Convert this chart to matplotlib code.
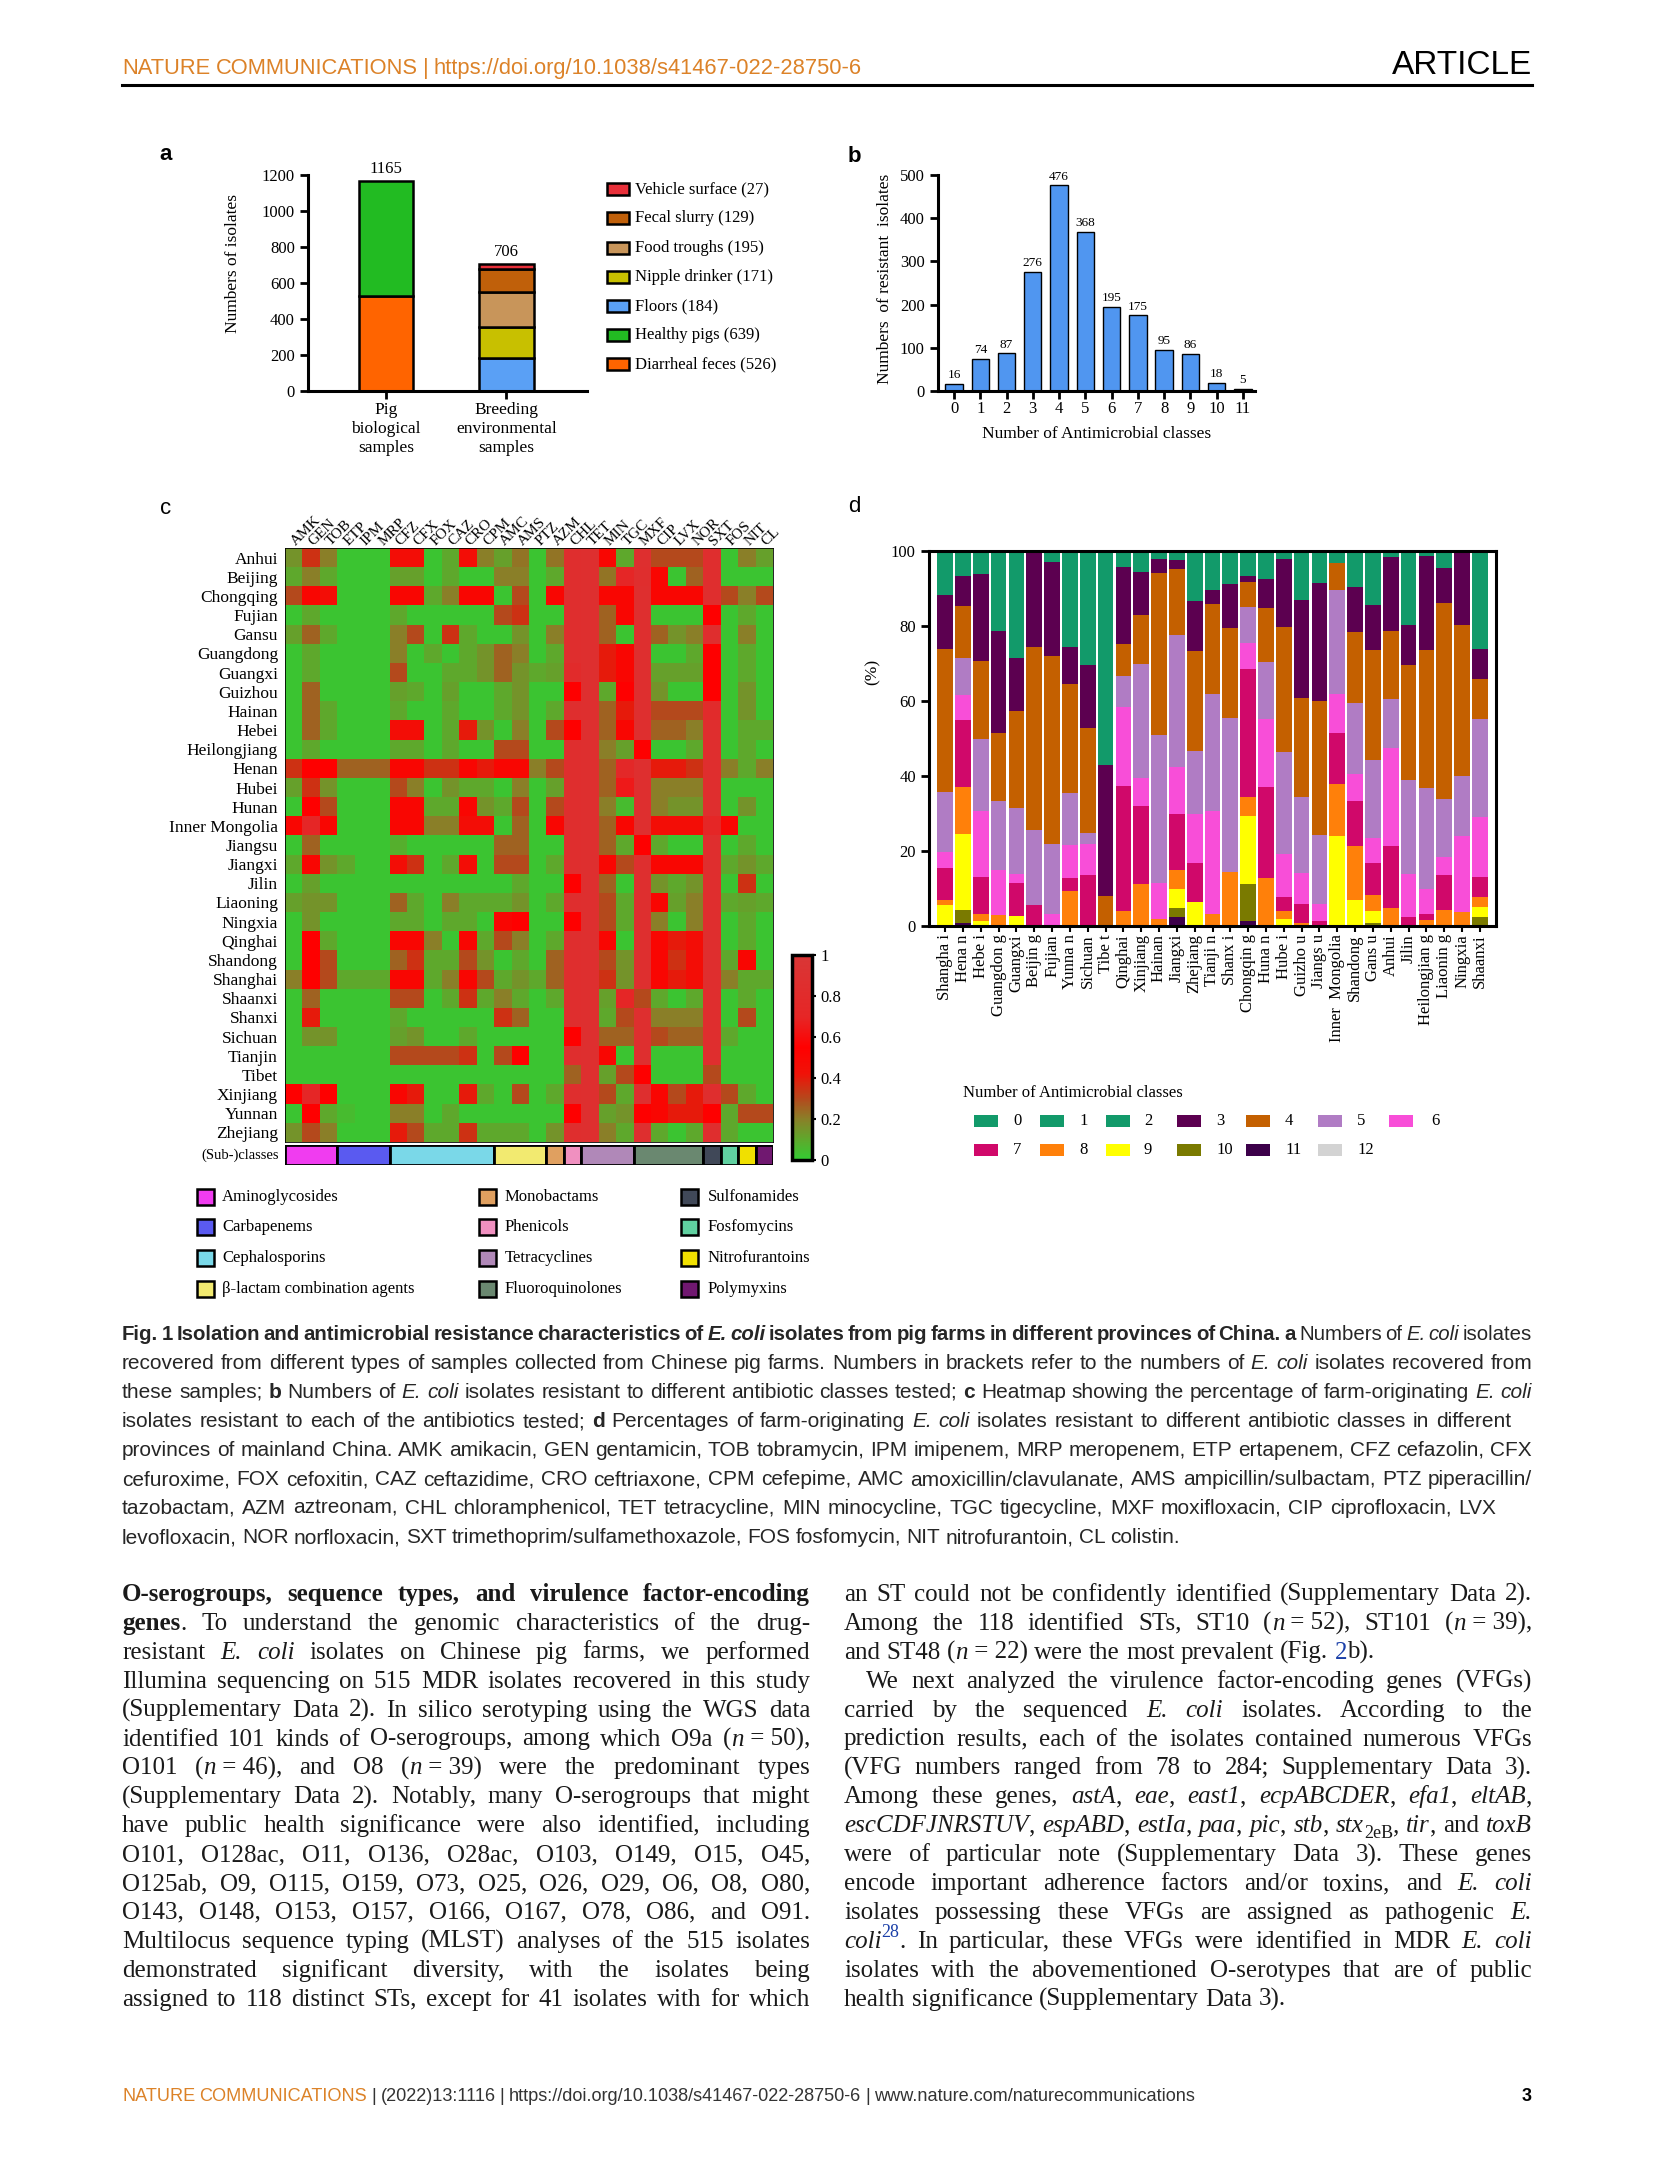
import numpy as np
import matplotlib
matplotlib.use('Agg')
import matplotlib.pyplot as plt
from matplotlib.colors import LinearSegmentedColormap
from matplotlib.patches import Rectangle

W, H = 1654, 2174
plt.rcParams['font.family'] = ['Liberation Serif', 'DejaVu Serif']
plt.rcParams['axes.unicode_minus'] = False

SANS = 'Liberation Sans'
SERIF = 'Liberation Serif'

# ---------------- panel a
sample_groups = ['Pig\nbiological\nsamples', 'Breeding\nenvironmental\nsamples']
source_names = ['Diarrheal feces', 'Healthy pigs', 'Floors', 'Nipple drinker',
                'Food troughs', 'Fecal slurry', 'Vehicle surface']
source_group = [0, 0, 1, 1, 1, 1, 1]
source_counts = [526, 639, 184, 171, 195, 129, 27]
source_colors = ['#ff6400', '#22bb22', '#5aa0f5', '#c8c000', '#c8955a', '#c0600a', '#e8303a']

# ---------------- panel b
n_classes = [0, 1, 2, 3, 4, 5, 6, 7, 8, 9, 10, 11]
n_resistant = [16, 74, 87, 276, 476, 368, 195, 175, 95, 86, 18, 5]

# ---------------- panel c
antibiotics = ['AMK', 'GEN', 'TOB', 'ETP', 'IPM', 'MRP', 'CFZ', 'CFX', 'FOX', 'CAZ', 'CRO', 'CPM',
               'AMC', 'AMS', 'PTZ', 'AZM', 'CHL', 'TET', 'MIN', 'TGC', 'MXF', 'CIP', 'LVX', 'NOR',
               'SXT', 'FOS', 'NIT', 'CL']
drug_classes = ['Aminoglycosides', 'Carbapenems', 'Cephalosporins', '\u03b2-lactam combination agents',
                'Monobactams', 'Phenicols', 'Tetracyclines', 'Fluoroquinolones',
                'Sulfonamides', 'Fosfomycins', 'Nitrofurantoins', 'Polymyxins']
drug_class_colors = ['#f03cf0', '#5a5af0', '#7ad8e8', '#f2ea70', '#e0a060', '#f090c0',
                     '#b088b8', '#6a8870', '#404858', '#60d0a0', '#f0e000', '#701870']
antibiotic_class = [0, 0, 0, 1, 1, 1, 2, 2, 2, 2, 2, 2, 3, 3, 3, 4, 5, 6, 6, 6, 7, 7, 7, 7, 8, 9, 10, 11]
provinces = ['Anhui', 'Beijing', 'Chongqing', 'Fujian', 'Gansu', 'Guangdong', 'Guangxi', 'Guizhou',
             'Hainan', 'Hebei', 'Heilongjiang', 'Henan', 'Hubei', 'Hunan', 'Inner Mongolia', 'Jiangsu',
             'Jiangxi', 'Jilin', 'Liaoning', 'Ningxia', 'Qinghai', 'Shandong', 'Shanghai', 'Shaanxi',
             'Shanxi', 'Sichuan', 'Tianjin', 'Tibet', 'Xinjiang', 'Yunnan', 'Zhejiang']
resist_rate = [
    [0.15, 0.35, 0.2, 0.02, 0.02, 0.02, 0.45, 0.45, 0.02, 0.1, 0.45, 0.2, 0.12, 0.22, 0.02, 0.22, 0.85, 0.88, 0.5, 0.1, 0.88, 0.3, 0.3, 0.3, 0.85, 0.02, 0.2, 0.12],
    [0.1, 0.2, 0.1, 0.02, 0.02, 0.02, 0.12, 0.12, 0.02, 0.1, 0.02, 0.02, 0.2, 0.2, 0.02, 0.1, 0.85, 0.88, 0.22, 0.7, 0.85, 0.5, 0.02, 0.25, 0.85, 0.02, 0.02, 0.02],
    [0.3, 0.5, 0.45, 0.02, 0.02, 0.02, 0.5, 0.5, 0.1, 0.2, 0.5, 0.5, 0.02, 0.3, 0.02, 0.5, 0.85, 0.88, 0.5, 0.5, 0.88, 0.5, 0.5, 0.5, 0.85, 0.3, 0.2, 0.3],
    [0.02, 0.1, 0.02, 0.02, 0.02, 0.02, 0.1, 0.02, 0.02, 0.02, 0.02, 0.02, 0.3, 0.35, 0.02, 0.02, 0.85, 0.88, 0.25, 0.5, 0.88, 0.02, 0.02, 0.02, 0.55, 0.02, 0.1, 0.02],
    [0.12, 0.25, 0.1, 0.02, 0.02, 0.02, 0.2, 0.3, 0.02, 0.35, 0.1, 0.02, 0.02, 0.15, 0.02, 0.2, 0.85, 0.88, 0.25, 0.02, 0.88, 0.25, 0.15, 0.2, 0.85, 0.02, 0.2, 0.02],
    [0.02, 0.1, 0.02, 0.02, 0.02, 0.02, 0.2, 0.02, 0.1, 0.02, 0.1, 0.15, 0.25, 0.2, 0.02, 0.1, 0.85, 0.88, 0.4, 0.5, 0.88, 0.02, 0.02, 0.1, 0.55, 0.02, 0.1, 0.02],
    [0.02, 0.1, 0.02, 0.02, 0.02, 0.02, 0.3, 0.02, 0.02, 0.1, 0.1, 0.15, 0.25, 0.15, 0.1, 0.12, 0.8, 0.88, 0.4, 0.5, 0.88, 0.12, 0.12, 0.12, 0.55, 0.02, 0.1, 0.02],
    [0.02, 0.25, 0.02, 0.02, 0.02, 0.02, 0.12, 0.1, 0.02, 0.12, 0.02, 0.02, 0.1, 0.15, 0.02, 0.02, 0.55, 0.88, 0.1, 0.55, 0.88, 0.15, 0.02, 0.02, 0.55, 0.02, 0.15, 0.02],
    [0.02, 0.25, 0.1, 0.02, 0.02, 0.02, 0.1, 0.02, 0.02, 0.1, 0.02, 0.02, 0.1, 0.15, 0.02, 0.1, 0.85, 0.88, 0.25, 0.4, 0.88, 0.3, 0.3, 0.3, 0.8, 0.02, 0.15, 0.02],
    [0.02, 0.25, 0.1, 0.02, 0.02, 0.02, 0.45, 0.45, 0.02, 0.1, 0.4, 0.15, 0.02, 0.2, 0.02, 0.3, 0.55, 0.88, 0.25, 0.5, 0.88, 0.25, 0.25, 0.2, 0.85, 0.02, 0.1, 0.1],
    [0.02, 0.1, 0.02, 0.02, 0.02, 0.02, 0.1, 0.1, 0.02, 0.1, 0.02, 0.02, 0.3, 0.3, 0.02, 0.02, 0.85, 0.88, 0.2, 0.12, 0.55, 0.02, 0.02, 0.1, 0.85, 0.02, 0.1, 0.02],
    [0.35, 0.55, 0.55, 0.25, 0.25, 0.25, 0.5, 0.5, 0.35, 0.35, 0.5, 0.4, 0.5, 0.5, 0.2, 0.3, 0.85, 0.88, 0.25, 0.75, 0.88, 0.4, 0.4, 0.35, 0.85, 0.2, 0.1, 0.2],
    [0.12, 0.35, 0.15, 0.02, 0.02, 0.02, 0.3, 0.2, 0.02, 0.15, 0.1, 0.1, 0.02, 0.2, 0.02, 0.12, 0.85, 0.88, 0.25, 0.65, 0.88, 0.2, 0.2, 0.2, 0.85, 0.02, 0.02, 0.02],
    [0.02, 0.55, 0.3, 0.02, 0.02, 0.02, 0.5, 0.5, 0.1, 0.1, 0.5, 0.15, 0.1, 0.3, 0.02, 0.3, 0.85, 0.88, 0.2, 0.05, 0.88, 0.2, 0.15, 0.15, 0.85, 0.02, 0.15, 0.02],
    [0.5, 0.7, 0.5, 0.02, 0.02, 0.02, 0.5, 0.5, 0.2, 0.2, 0.45, 0.45, 0.02, 0.25, 0.02, 0.5, 0.85, 0.88, 0.25, 0.5, 0.88, 0.45, 0.45, 0.45, 0.7, 0.5, 0.02, 0.02],
    [0.02, 0.25, 0.02, 0.02, 0.02, 0.02, 0.08, 0.02, 0.02, 0.02, 0.02, 0.02, 0.25, 0.25, 0.02, 0.02, 0.85, 0.88, 0.25, 0.1, 0.55, 0.1, 0.02, 0.02, 0.85, 0.02, 0.1, 0.02],
    [0.1, 0.5, 0.15, 0.1, 0.02, 0.02, 0.45, 0.35, 0.02, 0.1, 0.45, 0.02, 0.3, 0.3, 0.02, 0.1, 0.85, 0.88, 0.5, 0.3, 0.88, 0.5, 0.5, 0.5, 0.85, 0.1, 0.15, 0.1],
    [0.02, 0.12, 0.02, 0.02, 0.02, 0.02, 0.02, 0.02, 0.02, 0.02, 0.02, 0.02, 0.02, 0.1, 0.02, 0.02, 0.55, 0.88, 0.25, 0.02, 0.88, 0.15, 0.1, 0.15, 0.85, 0.02, 0.35, 0.02],
    [0.12, 0.15, 0.15, 0.02, 0.02, 0.02, 0.25, 0.1, 0.02, 0.2, 0.1, 0.1, 0.1, 0.15, 0.02, 0.1, 0.85, 0.88, 0.3, 0.1, 0.88, 0.5, 0.12, 0.2, 0.85, 0.1, 0.12, 0.1],
    [0.02, 0.15, 0.02, 0.02, 0.02, 0.02, 0.1, 0.1, 0.02, 0.1, 0.1, 0.02, 0.5, 0.55, 0.02, 0.02, 0.55, 0.88, 0.3, 0.1, 0.88, 0.2, 0.02, 0.2, 0.85, 0.02, 0.1, 0.02],
    [0.02, 0.55, 0.1, 0.02, 0.02, 0.02, 0.5, 0.5, 0.2, 0.02, 0.5, 0.1, 0.3, 0.2, 0.02, 0.1, 0.85, 0.88, 0.5, 0.02, 0.88, 0.5, 0.4, 0.45, 0.85, 0.02, 0.1, 0.02],
    [0.02, 0.55, 0.3, 0.02, 0.02, 0.02, 0.25, 0.35, 0.1, 0.1, 0.3, 0.15, 0.02, 0.1, 0.02, 0.25, 0.85, 0.88, 0.3, 0.15, 0.88, 0.5, 0.35, 0.45, 0.85, 0.1, 0.5, 0.02],
    [0.2, 0.55, 0.3, 0.1, 0.1, 0.1, 0.5, 0.5, 0.1, 0.2, 0.5, 0.3, 0.1, 0.15, 0.1, 0.25, 0.85, 0.88, 0.35, 0.15, 0.88, 0.5, 0.4, 0.45, 0.85, 0.2, 0.1, 0.1],
    [0.02, 0.25, 0.02, 0.02, 0.02, 0.02, 0.3, 0.3, 0.02, 0.1, 0.35, 0.1, 0.2, 0.1, 0.02, 0.1, 0.85, 0.88, 0.12, 0.7, 0.3, 0.1, 0.02, 0.1, 0.85, 0.02, 0.1, 0.02],
    [0.02, 0.4, 0.02, 0.02, 0.02, 0.02, 0.1, 0.02, 0.02, 0.02, 0.02, 0.02, 0.35, 0.25, 0.02, 0.02, 0.85, 0.88, 0.1, 0.3, 0.88, 0.2, 0.2, 0.2, 0.85, 0.02, 0.3, 0.02],
    [0.02, 0.15, 0.15, 0.02, 0.02, 0.02, 0.12, 0.15, 0.02, 0.02, 0.1, 0.02, 0.02, 0.02, 0.02, 0.02, 0.55, 0.88, 0.25, 0.25, 0.88, 0.3, 0.25, 0.25, 0.85, 0.1, 0.02, 0.02],
    [0.02, 0.02, 0.02, 0.02, 0.02, 0.02, 0.3, 0.3, 0.3, 0.3, 0.35, 0.02, 0.3, 0.55, 0.02, 0.02, 0.85, 0.88, 0.5, 0.02, 0.88, 0.02, 0.02, 0.02, 0.85, 0.02, 0.02, 0.02],
    [0.02, 0.02, 0.02, 0.02, 0.02, 0.02, 0.02, 0.02, 0.02, 0.02, 0.02, 0.02, 0.02, 0.02, 0.02, 0.02, 0.25, 0.88, 0.12, 0.3, 0.55, 0.02, 0.02, 0.02, 0.3, 0.02, 0.02, 0.02],
    [0.55, 0.7, 0.55, 0.02, 0.02, 0.02, 0.5, 0.4, 0.02, 0.02, 0.4, 0.1, 0.02, 0.3, 0.02, 0.1, 0.85, 0.88, 0.3, 0.1, 0.88, 0.5, 0.3, 0.4, 0.85, 0.3, 0.1, 0.02],
    [0.02, 0.55, 0.1, 0.05, 0.02, 0.02, 0.2, 0.2, 0.02, 0.1, 0.02, 0.02, 0.02, 0.02, 0.02, 0.02, 0.55, 0.88, 0.12, 0.15, 0.55, 0.5, 0.4, 0.4, 0.55, 0.1, 0.3, 0.3],
    [0.15, 0.3, 0.2, 0.02, 0.02, 0.02, 0.4, 0.3, 0.1, 0.1, 0.35, 0.1, 0.1, 0.1, 0.02, 0.15, 0.85, 0.88, 0.2, 0.1, 0.88, 0.1, 0.02, 0.1, 0.85, 0.1, 0.02, 0.02],
]

# ---------------- panel d (percent of isolates per number of resistant classes)
d_provinces = ['Shangha i', 'Hena n', 'Hebe i', 'Guangdon g', 'Guangxi', 'Beijin g', 'Fujian', 'Yunna n',
               'Sichuan', 'Tibe t', 'Qinghai', 'Xinjiang', 'Hainan', 'Jiangxi', 'Zhejiang', 'Tianji n',
               'Shanx i', 'Chongqin g', 'Huna n', 'Hube i', 'Guizho u', 'Jiangs u', 'Inner  Mongolia',
               'Shandong', 'Gans u', 'Anhui', 'Jilin', 'Heilongjian g', 'Liaonin g', 'Ningxia', 'Shaanxi']
pct_c11 = [0, 0.9, 0, 0, 0, 0, 0, 0, 0, 0, 0, 0, 0, 2.3, 0, 0, 0, 1.3, 0, 0, 0, 0, 0, 0, 0, 0, 0, 0, 0, 0, 0]
pct_c10 = [0, 3.5, 0, 0, 0, 0, 0, 0, 0, 0, 0, 0, 0, 2.4, 0, 0, 0, 9.9, 0, 0, 0, 0, 0, 0, 0.9, 0, 0, 0, 0, 0, 2.5]
pct_c9 = [5.6, 20.1, 1.4, 0, 2.7, 0, 0, 0, 0, 0, 0, 0, 0, 5.2, 6.5, 0, 0, 18.1, 0, 2.0, 0, 0, 24.0, 6.9, 3.2, 0, 0, 0, 0, 0, 2.7]
pct_c8 = [1.3, 12.7, 1.8, 2.9, 0, 0, 0, 9.4, 0, 0, 4.0, 11.1, 1.8, 5.0, 0, 3.2, 14.5, 5.0, 12.7, 2.1, 0.9, 0, 13.9, 14.4, 4.3, 4.9, 0, 1.6, 4.4, 3.8, 2.6]
pct_c7 = [8.7, 17.7, 10.0, 0, 8.7, 5.6, 0, 3.3, 13.6, 0, 33.4, 20.9, 0, 15.1, 10.2, 0, 0, 34.2, 24.3, 3.7, 5.1, 1.3, 13.7, 12.0, 8.5, 16.4, 2.5, 1.6, 9.2, 0, 5.2]
pct_c6 = [4.2, 6.7, 17.6, 12.0, 2.6, 0, 3.2, 8.9, 8.4, 0, 20.9, 7.6, 9.6, 12.5, 13.3, 27.5, 0, 6.9, 18.1, 11.4, 8.2, 4.5, 10.3, 7.2, 6.7, 26.3, 11.3, 6.8, 4.9, 20.3, 16.2]
pct_c5 = [16.0, 10.0, 19.0, 18.4, 17.6, 20.0, 18.8, 13.8, 2.9, 0, 8.4, 30.3, 39.5, 35.1, 16.7, 31.3, 41.1, 9.8, 15.4, 27.3, 20.3, 18.5, 27.7, 19.1, 20.8, 12.9, 25.1, 26.9, 15.3, 15.9, 26.1]
pct_c4 = [38.0, 13.7, 20.9, 18.3, 25.7, 48.9, 50.0, 29.1, 27.8, 8.0, 8.4, 13.1, 43.3, 17.6, 26.7, 24.0, 23.8, 6.6, 14.2, 33.3, 26.2, 35.8, 7.1, 18.9, 29.2, 18.2, 30.7, 36.7, 52.4, 40.3, 10.6]
pct_c3 = [14.5, 8.0, 23.3, 27.2, 14.3, 25.5, 25.0, 9.8, 16.9, 34.9, 20.7, 11.3, 3.8, 2.4, 13.3, 3.6, 11.8, 1.5, 7.8, 18.2, 26.2, 31.3, 0, 11.8, 12.0, 19.8, 10.8, 25.1, 9.2, 19.7, 7.9]
pct_c0_2 = [11.7, 6.7, 6.0, 21.2, 28.4, 0, 3.0, 25.7, 30.4, 57.1, 4.4, 5.7, 2.0, 2.4, 13.3, 10.4, 8.8, 6.7, 7.5, 2.0, 20.9, 8.6, 3.5, 9.7, 14.4, 1.5, 19.3, 1.3, 4.6, 0, 26.2]
class_labels = ['0', '1', '2', '3', '4', '5', '6', '7', '8', '9', '10', '11', '12']
class_colors = ['#129a6a', '#129a6a', '#129a6a', '#5c0050', '#c46000', '#b07cc4', '#f84ed8',
                '#d0086a', '#ff800a', '#ffff00', '#7a7a00', '#3c004a', '#d3d3d3']

TXT = '#1a1a1a'
ORANGE = '#dc8228'
BLUE = '#1a3fa8'

fig = plt.figure(figsize=(W / 100, H / 100), dpi=100)
page = fig.add_axes([0, 0, 1, 1])
page.set_xlim(0, W)
page.set_ylim(H, 0)
page.axis('off')
renderer = fig.canvas.get_renderer()


def px_axes(l, t, r, b):
    return fig.add_axes([l / W, 1 - b / H, (r - l) / W, (b - t) / H])


def style_axis(ax, spines=('left', 'bottom')):
    for s in ['left', 'right', 'top', 'bottom']:
        ax.spines[s].set_visible(s in spines)
        ax.spines[s].set_linewidth(2.2)
    ax.tick_params(width=2.0, length=6, labelsize=12, color='black')


def build_words(runs, y, size, family, color):
    words = [[]]
    for txt, st in runs:
        for k, part in enumerate(txt.split(' ')):
            if k:
                words.append([])
            if part:
                words[-1].append((part, st))
    em = size * 100 / 72
    placed = []
    for w in [w for w in words if w]:
        frags, tot = [], 0
        for part, st in w:
            kw = dict(fontsize=size, family=family, color=color, va='baseline', ha='left')
            dy = 0
            if st in ('b', 'bi'):
                kw['fontweight'] = 'bold'
            if st in ('i', 'bi'):
                kw['fontstyle'] = 'italic'
            if st in ('sub', 'sup'):
                kw['fontsize'] = size * 0.72
                dy = 0.22 * em if st == 'sub' else -0.42 * em
            if st in ('sup', 'blue'):
                kw['color'] = BLUE
            if st == 'o':
                kw['color'] = ORANGE
            t = page.text(0, y + dy, part, **kw)
            wd = t.get_window_extent(renderer).width
            frags.append((t, wd))
            tot += wd
        placed.append((frags, tot))
    return placed, em


def put_line(runs, x0, y, size, family, x1=None, color=TXT, fit=False):
    for _ in range(3):
        placed, em = build_words(runs, y, size, family, color)
        words_w = sum(p[1] for p in placed)
        n = len(placed)
        if x1 is None:
            break
        natural = words_w + (n - 1) * 0.25 * em
        tight = words_w + (n - 1) * 0.15 * em
        if (fit and abs(natural - (x1 - x0)) > 2) or tight > x1 - x0:
            for frags, _w in placed:
                for t, _ in frags:
                    t.remove()
            size *= (x1 - x0) / (natural if fit else tight)
            continue
        break
    gap = 0.25 * em
    if x1 is not None and n > 1:
        gap = (x1 - x0 - words_w) / (n - 1)
    x = x0
    for frags, tot in placed:
        for t, wd in frags:
            t.set_x(x)
            x += wd
        x += gap


# ---------------- header / footer
put_line([('NATURE COMMUNICATIONS | https://doi.org/10.1038/s41467-022-28750-6', 'o')],
         122, 74, 14.5, SANS, x1=862, fit=True)
page.text(1532, 74, 'ARTICLE', family=SANS, fontsize=24, ha='right', va='baseline', color='black')
page.plot([122, 1532], [85, 85], color='black', lw=2.2)
put_line([('NATURE COMMUNICATIONS', 'o'), (' | (2022)13:1116 | https://doi.org/10.1038/s41467-022-28750-6 | www.nature.com/naturecommunications', 'n')],
         122, 2101, 12.5, SANS, x1=1195, color='#333333', fit=True)
page.text(1532, 2101, '3', family=SANS, fontsize=13, fontweight='bold', ha='right', va='baseline')

# panel letters
for lab, x, y, wt in [('a', 166, 154, 'bold'), ('b', 854, 157, 'bold'), ('c', 166, 508, 'normal'), ('d', 854, 507, 'normal')]:
    page.text(x, y, lab, family=SANS, fontsize=16, fontweight=wt, ha='center', va='center')

# ---------------- panel a
axa = px_axes(308, 175, 587, 391)
style_axis(axa)
bottoms = [0, 0]
for name, grp, cnt, col in zip(source_names, source_group, source_counts, source_colors):
    axa.bar(grp, cnt, bottom=bottoms[grp], width=0.45, color=col, edgecolor='black', linewidth=1.8)
    bottoms[grp] += cnt
for g, tot in enumerate(bottoms):
    axa.annotate(f'{tot}', (g, tot), xytext=(0, 3), textcoords='offset points',
                 ha='center', va='bottom', fontsize=12)
axa.set_xlim(-0.647, 1.668)
axa.set_ylim(0, 1200)
axa.set_yticks(range(0, 1201, 200))
axa.set_xticks([0, 1])
axa.set_xticklabels(sample_groups, linespacing=1.25, fontsize=12.5)
axa.tick_params(axis='x', pad=2)
axa.set_ylabel('Numbers of isolates', fontsize=12.5)
axa.yaxis.set_label_coords(-0.269, 0.59)
axa.yaxis.label.set_va('center')

leg_rows = [189, 218, 248, 277, 306, 335, 364]
for i, k in enumerate(range(len(source_names) - 1, -1, -1)):
    y = leg_rows[i]
    page.add_patch(Rectangle((607, y - 6), 22, 12, facecolor=source_colors[k], edgecolor='black', lw=1.8))
    page.text(635, y, f'{source_names[k]} ({source_counts[k]})', fontsize=12, ha='left', va='center', family=SERIF)

# ---------------- panel b
axb = px_axes(938, 175, 1255, 391)
style_axis(axb)
axb.bar(n_classes, n_resistant, width=0.66, color='#5096f0', edgecolor='black', linewidth=1.0)
for x, v in zip(n_classes, n_resistant):
    axb.annotate(f'{v}', (x, v), xytext=(0, 2), textcoords='offset points', ha='center', va='bottom', fontsize=9.5)
axb.set_xlim(-0.61, 11.46)
axb.set_ylim(0, 500)
axb.set_yticks(range(0, 501, 100))
axb.set_xticks(n_classes)
axb.tick_params(axis='x', pad=1.5)
axb.set_xlabel('Number of Antimicrobial classes', fontsize=12.5)
axb.xaxis.set_label_coords(0.5, -(434 - 391) / 216)
axb.xaxis.label.set_va('center')
axb.set_ylabel('Numbers  of resistant  isolates', fontsize=12.5)
axb.yaxis.set_label_coords(-(938 - 885) / 317, 0.52)
axb.yaxis.label.set_va('center')

# ---------------- panel c
cmap = LinearSegmentedColormap.from_list('gr', [(0, '#33cc33'), (0.1, '#5fa82c'), (0.2, '#8a7f28'),
                                               (0.3, '#b5481c'), (0.42, '#f01208'), (0.55, '#ff0000'),
                                               (0.7, '#e62626'), (1, '#d93636')])
axc = px_axes(285, 548, 773, 1142)
im = axc.imshow(np.array(resist_rate), cmap=cmap, vmin=0, vmax=1, aspect='auto', interpolation='nearest')
axc.xaxis.tick_top()
axc.set_xticks(range(len(antibiotics)))
axc.set_xticklabels(antibiotics, rotation=45, ha='left', va='center', rotation_mode='anchor', fontsize=11)
axc.set_yticks(range(len(provinces)))
axc.set_yticklabels(provinces, fontsize=12.5)
axc.tick_params(length=0, pad=5)
axc.tick_params(axis='x', pad=3)
for s in axc.spines.values():
    s.set_linewidth(0.6)

axs = px_axes(285, 1145, 773, 1165)
start = 0
for k in range(len(drug_classes)):
    n = antibiotic_class.count(k)
    axs.barh(0, n, left=start, height=1, color=drug_class_colors[k], edgecolor='black', linewidth=2)
    start += n
axs.set_xlim(0, len(antibiotics))
axs.set_ylim(-0.5, 0.5)
axs.axis('off')
page.text(279, 1155, '(Sub-)classes', fontsize=10.5, ha='right', va='center', family=SERIF)

cax = px_axes(792, 955, 812, 1160)
cb = fig.colorbar(im, cax=cax, ticks=[0, 0.2, 0.4, 0.6, 0.8, 1])
cb.ax.set_yticklabels(['0', '0.2', '0.4', '0.6', '0.8', '1'])
cb.outline.set_linewidth(2.5)
cax.tick_params(length=3, width=1.5, labelsize=12, pad=3)

leg_x = [(197, 222), (479, 505), (681, 708)]
leg_y = [1197, 1227, 1258, 1289]
for k, name in enumerate(drug_classes):
    px, tx = leg_x[k // 4]
    y = leg_y[k % 4]
    page.add_patch(Rectangle((px, y - 8), 17, 16, facecolor=drug_class_colors[k], edgecolor='black', lw=1.8))
    page.text(tx, y, name, fontsize=12, ha='left', va='center', family=SERIF)

# ---------------- panel d
axd = px_axes(929, 551, 1496, 926)
style_axis(axd, spines=('left', 'bottom', 'top', 'right'))
stack = [(pct_c11, 11), (pct_c10, 10), (pct_c9, 9), (pct_c8, 8), (pct_c7, 7), (pct_c6, 6),
         (pct_c5, 5), (pct_c4, 4), (pct_c3, 3), (pct_c0_2, 0)]
xd = np.arange(len(d_provinces))
bottom = np.zeros(len(d_provinces))
for vals, k in stack:
    axd.bar(xd, vals, bottom=bottom, width=0.88, color=class_colors[k], linewidth=0)
    bottom += np.array(vals)
axd.set_xlim(-0.9, 30.9)
axd.set_ylim(0, 100)
axd.set_yticks(range(0, 101, 20))
axd.set_xticks(xd)
axd.set_xticklabels(d_provinces, rotation=90, fontsize=12)
axd.tick_params(axis='x', length=4, width=1.5, pad=2)
axd.set_ylabel('(%)', fontsize=12.5)
axd.yaxis.set_label_coords(-(929 - 873) / 567, (926 - 672) / 375)
axd.yaxis.label.set_va('center')

page.text(963, 1093, 'Number of Antimicrobial classes', fontsize=12, ha='left', va='center', family=SERIF)
patch_x = [974, 1040, 1106, 1177, 1246, 1318, 1389]
label_x = [1013, 1079, 1144, 1216, 1285, 1357, 1431]
for k, lab in enumerate(class_labels):
    row, col = divmod(k, 7)
    y = 1121 + row * 29
    page.add_patch(Rectangle((patch_x[col], y - 6), 24, 12, facecolor=class_colors[k], lw=0))
    page.text(label_x[col], y, lab, fontsize=12, ha='left', va='center', family=SERIF)

# ---------------- caption
cap = [
    ([('Fig. 1 Isolation and antimicrobial resistance characteristics of ', 'b'), ('E. coli', 'bi'),
      (' isolates from pig farms in different provinces of China.', 'b'), (' ', 'n'), ('a', 'b'),
      (' Numbers of ', 'n'), ('E. coli', 'i'), (' isolates', 'n')], 1532),
    ([('recovered from different types of samples collected from Chinese pig farms. Numbers in brackets refer to the numbers of ', 'n'),
      ('E. coli', 'i'), (' isolates recovered from', 'n')], 1532),
    ([('these samples; ', 'n'), ('b', 'b'), (' Numbers of ', 'n'), ('E. coli', 'i'),
      (' isolates resistant to different antibiotic classes tested; ', 'n'), ('c', 'b'),
      (' Heatmap showing the percentage of farm-originating ', 'n'), ('E. coli', 'i')], 1532),
    ([('isolates resistant to each of the antibiotics tested; ', 'n'), ('d', 'b'),
      (' Percentages of farm-originating ', 'n'), ('E. coli', 'i'),
      (' isolates resistant to different antibiotic classes in different', 'n')], 1511),
    ([('provinces of mainland China. AMK amikacin, GEN gentamicin, TOB tobramycin, IPM imipenem, MRP meropenem, ETP ertapenem, CFZ cefazolin, CFX', 'n')], 1532),
    ([('cefuroxime, FOX cefoxitin, CAZ ceftazidime, CRO ceftriaxone, CPM cefepime, AMC amoxicillin/clavulanate, AMS ampicillin/sulbactam, PTZ piperacillin/', 'n')], 1532),
    ([('tazobactam, AZM aztreonam, CHL chloramphenicol, TET tetracycline, MIN minocycline, TGC tigecycline, MXF moxifloxacin, CIP ciprofloxacin, LVX', 'n')], 1496),
    ([('levofloxacin, NOR norfloxacin, SXT trimethoprim/sulfamethoxazole, FOS fosfomycin, NIT nitrofurantoin, CL colistin.', 'n')], None),
]
for i, (runs, x1) in enumerate(cap):
    put_line(runs, 122, 1340 + 29 * i, 15, SANS, x1=x1, color='#262626')

# ---------------- body text
nb = '\u00a0'
left_col = [
    ([('O-serogroups, sequence types, and virulence factor-encoding', 'b')], True),
    ([('genes', 'b'), ('. To understand the genomic characteristics of the drug-', 'n')], True),
    ([('resistant ', 'n'), ('E. coli', 'i'), (' isolates on Chinese pig farms, we performed', 'n')], True),
    ([('Illumina sequencing on 515 MDR isolates recovered in this study', 'n')], True),
    ([('(Supplementary Data 2). In silico serotyping using the WGS data', 'n')], True),
    ([('identified 101 kinds of O-serogroups, among which O9a (', 'n'), ('n', 'i'), (f'{nb}={nb}50),', 'n')], True),
    ([('O101 (', 'n'), ('n', 'i'), (f'{nb}={nb}46), and O8 (', 'n'), ('n', 'i'), (f'{nb}={nb}39) were the predominant types', 'n')], True),
    ([('(Supplementary Data 2). Notably, many O-serogroups that might', 'n')], True),
    ([('have public health significance were also identified, including', 'n')], True),
    ([('O101, O128ac, O11, O136, O28ac, O103, O149, O15, O45,', 'n')], True),
    ([('O125ab, O9, O115, O159, O73, O25, O26, O29, O6, O8, O80,', 'n')], True),
    ([('O143, O148, O153, O157, O166, O167, O78, O86, and O91.', 'n')], True),
    ([('Multilocus sequence typing (MLST) analyses of the 515 isolates', 'n')], True),
    ([('demonstrated significant diversity, with the isolates being', 'n')], True),
    ([('assigned to 118 distinct STs, except for 41 isolates with for which', 'n')], True),
]
right_col = [
    ([('an ST could not be confidently identified (Supplementary Data 2).', 'n')], True, 0),
    ([('Among the 118 identified STs, ST10 (', 'n'), ('n', 'i'), (f'{nb}={nb}52), ST101 (', 'n'), ('n', 'i'), (f'{nb}={nb}39),', 'n')], True, 0),
    ([('and ST48 (', 'n'), ('n', 'i'), (f'{nb}={nb}22) were the most prevalent (Fig. ', 'n'), ('2', 'blue'), ('b).', 'n')], False, 0),
    ([('We next analyzed the virulence factor-encoding genes (VFGs)', 'n')], True, 22),
    ([('carried by the sequenced ', 'n'), ('E. coli', 'i'), (' isolates. According to the', 'n')], True, 0),
    ([('prediction results, each of the isolates contained numerous VFGs', 'n')], True, 0),
    ([('(VFG numbers ranged from 78 to 284; Supplementary Data 3).', 'n')], True, 0),
    ([('Among these genes, ', 'n'), ('astA', 'i'), (', ', 'n'), ('eae', 'i'), (', ', 'n'), ('east1', 'i'), (', ', 'n'),
      ('ecpABCDER', 'i'), (', ', 'n'), ('efa1', 'i'), (', ', 'n'), ('eltAB', 'i'), (',', 'n')], True, 0),
    ([('escCDFJNRSTUV', 'i'), (', ', 'n'), ('espABD', 'i'), (', ', 'n'), ('estIa', 'i'), (', ', 'n'), ('paa', 'i'), (', ', 'n'),
      ('pic', 'i'), (', ', 'n'), ('stb', 'i'), (', ', 'n'), ('stx', 'i'), ('2eB', 'sub'), (', ', 'n'), ('tir', 'i'),
      (', and ', 'n'), ('toxB', 'i')], True, 0),
    ([('were of particular note (Supplementary Data 3). These genes', 'n')], True, 0),
    ([('encode important adherence factors and/or toxins, and ', 'n'), ('E. coli', 'i')], True, 0),
    ([('isolates possessing these VFGs are assigned as pathogenic ', 'n'), ('E.', 'i')], True, 0),
    ([('coli', 'i'), ('28', 'sup'), ('. In particular, these VFGs were identified in MDR ', 'n'), ('E. coli', 'i')], True, 0),
    ([('isolates with the abovementioned O-serotypes that are of public', 'n')], True, 0),
    ([('health significance (Supplementary Data 3).', 'n')], False, 0),
]
for i, (runs, just) in enumerate(left_col):
    put_line(runs, 122, 1601 + 28.9 * i, 18, SERIF, x1=810 if just else None)
for i, (runs, just, ind) in enumerate(right_col):
    put_line(runs, 844 + ind, 1601 + 28.9 * i, 18, SERIF, x1=1532 if just else None)

fig.savefig('out.png', dpi=100)
